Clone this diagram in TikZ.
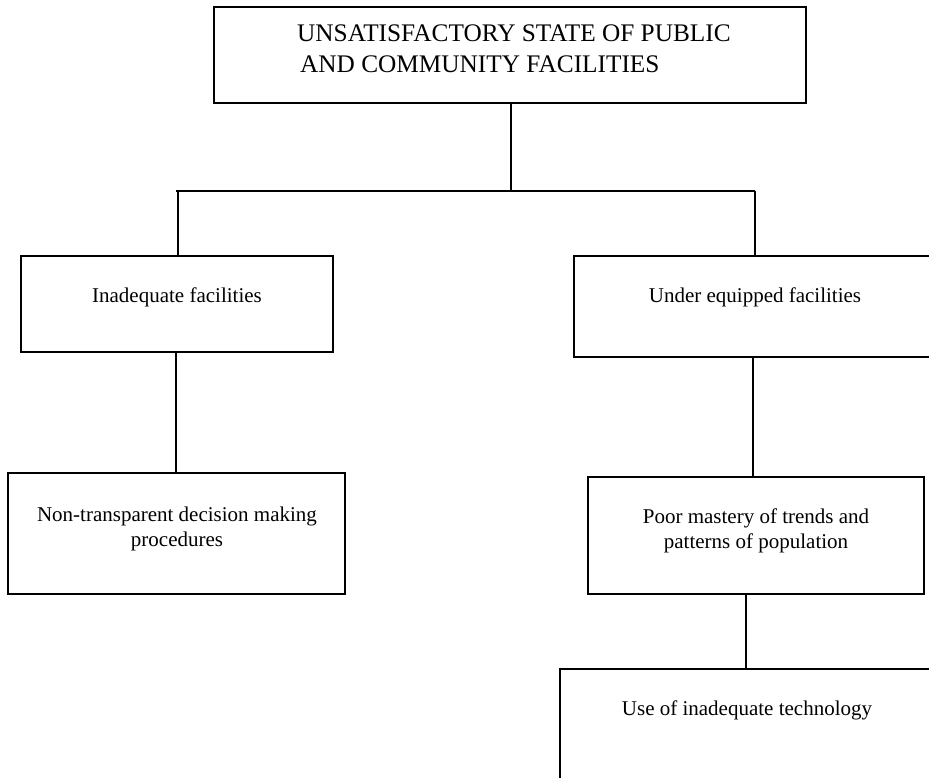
\documentclass[tikz,border=0pt]{standalone}
\usepackage{fontspec}
\setmainfont{Liberation Serif}
\begin{document}
\begin{tikzpicture}[x=1pt,y=-1pt,
  box/.style={draw=black,line width=2pt,rectangle,inner sep=0pt},
  link/.style={draw=black,line width=1.8pt},
  label/.style={inner sep=0pt,anchor=base,font=\fontsize{21}{25}\selectfont},
  title/.style={inner sep=0pt,anchor=base west,font=\fontsize{25.3}{31}\selectfont}]
  \clip (0,0) rectangle (929,778);
  \fill[white] (0,0) rectangle (929,778);

  % boxes
  \node[box,minimum width=592pt,minimum height=96pt] (top) at (510,55) {};
  \node[box,minimum width=312pt,minimum height=96pt] (inad) at (177,304) {};
  \node[box,minimum width=366pt,minimum height=101pt] (under) at (757,306.5) {};
  \node[box,minimum width=337pt,minimum height=121pt] (nontr) at (176.5,533.5) {};
  \node[box,minimum width=336pt,minimum height=117pt] (poor) at (756,535.5) {};
  \node[box,minimum width=380pt,minimum height=121pt] (tech) at (750,729.5) {};

  % texts
  \node[title] (t1a) at (297,42) {UNSATISFACTORY STATE OF PUBLIC};
  \node[title] (t1b) at (300,73) {AND COMMUNITY FACILITIES};
  \node[label] (t2) at (177,302) {Inadequate facilities};
  \node[label] (t3) at (755,302) {Under equipped facilities};
  \node[label] (t4a) at (177,521) {Non-transparent decision making};
  \node[label] (t4b) at (177,546) {procedures};
  \node[label] (t5a) at (756,523) {Poor mastery of trends and};
  \node[label] (t5b) at (756,548) {patterns of population};
  \node[label] (t6) at (747,715) {Use of inadequate technology};

  % connectors
  \coordinate (mid) at (511,191);
  \coordinate (barL) at (176,191);
  \coordinate (jL) at (178,191);
  \coordinate (jR) at (755,191);
  \draw[link] (top.south -| mid) -- (mid);
  \draw[link] (barL) -- (jR);
  \draw[link] (jL) -- (jL |- inad.north);
  \draw[link] (jR) -- (jR |- under.north);
  \coordinate (cL) at (176,352);
  \draw[link] (cL |- inad.south) -- (cL |- nontr.north);
  \coordinate (cR) at (753,357);
  \draw[link] (cR |- under.south) -- (cR |- poor.north);
  \coordinate (cT) at (746,594);
  \draw[link] (cT |- poor.south) -- (cT |- tech.north);
\end{tikzpicture}
\end{document}
